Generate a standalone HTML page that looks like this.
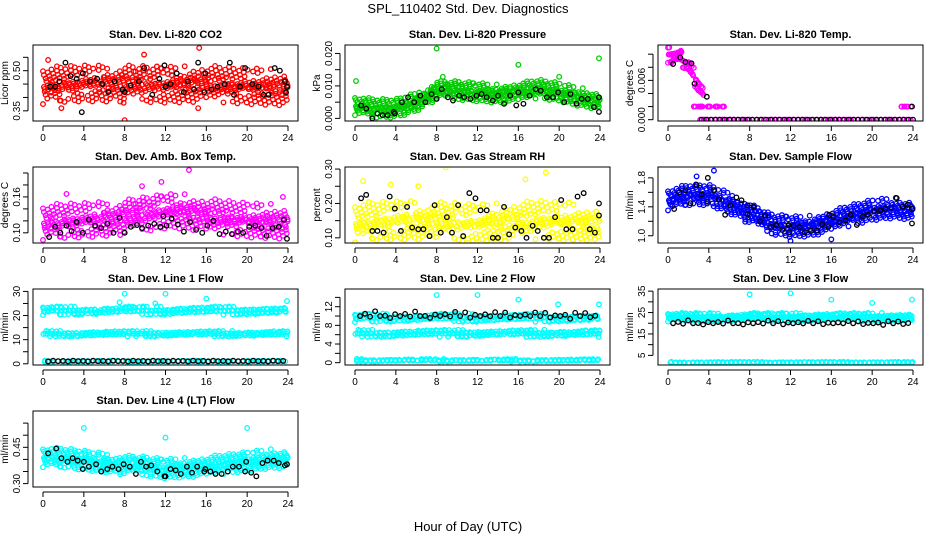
<!DOCTYPE html>
<html><head><meta charset="utf-8"><style>
html,body{margin:0;padding:0;background:#fff;}
svg{display:block;font-family:"Liberation Sans",Arial,sans-serif;}
</style></head><body>
<svg id="chart" width="936" height="540" viewBox="0 0 936 540">
<text x="468" y="13" text-anchor="middle" font-size="13">SPL_110402  Std. Dev. Diagnostics</text>
<text x="468" y="531" text-anchor="middle" font-size="13">Hour of Day (UTC)</text>
</svg>
<script>
// ---- data ----
const hourTicks = [0,4,8,12,16,20,24];
const titles = ["Stan. Dev. Li-820 CO2","Stan. Dev. Li-820 Pressure","Stan. Dev. Li-820 Temp.","Stan. Dev. Amb. Box Temp.","Stan. Dev. Gas Stream RH","Stan. Dev. Sample Flow","Stan. Dev. Line 1 Flow","Stan. Dev. Line 2 Flow","Stan. Dev. Line 3 Flow","Stan. Dev. Line 4 (LT) Flow"];
const yUnits = ["Licor ppm","kPa","degrees C","degrees C","percent","ml/min","ml/min","ml/min","ml/min","ml/min"];
const yTicks = [[0.35,0.40,0.45,0.50,0.55],[0,0.005,0.010,0.015,0.020],[0,0.002,0.004,0.006,0.008,0.010],[0.10,0.12,0.14,0.16,0.18,0.20],[0.10,0.15,0.20,0.25,0.30],[1.0,1.2,1.4,1.6,1.8],[0,5,10,15,20,25,30],[0,2,4,6,8,10,12,14],[5,10,15,20,25,30,35],[0.30,0.35,0.40,0.45,0.50,0.55]];
const yLabels = [["0.35","0.50"],["0.000","0.010","0.020"],["0.000","0.006"],["0.10","0.16"],["0.10","0.20","0.30"],["1.0","1.4","1.8"],["0","10","20","30"],["0","4","8","12"],["5","15","25","35"],["0.30","0.45"]];
const yLabelVals = [[0.35,0.50],[0,0.010,0.020],[0,0.006],[0.10,0.16],[0.10,0.20,0.30],[1.0,1.4,1.8],[0,10,20,30],[0,4,8,12],[5,15,25,35],[0.30,0.45]];
const yDomains = [[0.312,0.596],[-0.0008,0.0226],[-0.0002,0.0114],[0.083,0.21],[0.085,0.306],[0.9,1.95],[-0.5,31],[-0.5,15.8],[0.5,36],[0.286,0.60]];
const colors = ["#ff0000","#00cc00","#ff00ff","#ff00ff","#ffff00","#0000ff","#00ffff","#00ffff","#00ffff","#00ffff"];
// bands: hours, centre values, half spread, point count
const bands = [
 [{h:[0,4,8,12,16,20,24],c:[0.445,0.45,0.45,0.445,0.45,0.44,0.435],s:0.07,n:520}],
 [{h:[0,2,4,6,8,10,12,14,16,18,20,22,24],c:[0.004,0.003,0.003,0.005,0.0085,0.0085,0.008,0.0075,0.008,0.009,0.008,0.0065,0.0055],s:0.003,n:520}],
 [{h:[0,1,2,3,3.6],c:[0.0100,0.0096,0.0082,0.0052,0.0036],s:0.0013,n:70},{h:[2.5,5.5],c:[0.002,0.002],s:0,n:22},{h:[3,24],c:[0,0],s:0,n:110},{h:[22.8,24],c:[0.002,0.002],s:0,n:7}],
 [{h:[0,4,8,10,12,14,16,20,24],c:[0.118,0.12,0.125,0.13,0.135,0.135,0.128,0.12,0.118],s:0.03,n:520}],
 [{h:[0,6,12,18,24],c:[0.145,0.15,0.14,0.15,0.14],s:0.058,n:480}],
 [{h:[0,2,4,6,8,10,12,14,16,18,20,22,24],c:[1.5,1.56,1.56,1.45,1.3,1.16,1.12,1.13,1.2,1.28,1.35,1.38,1.36],s:0.15,n:520}],
 [{h:[0,24],c:[22,22],s:1.8,n:260},{h:[0,24],c:[12.5,12.5],s:1.2,n:260},{h:[0,24],c:[1,1],s:0.3,n:120}],
 [{h:[0,24],c:[9.6,9.6],s:0.9,n:260},{h:[0,24],c:[6.3,6.3],s:0.8,n:260},{h:[0,24],c:[0.5,0.5],s:0.3,n:160}],
 [{h:[0,24],c:[22.8,22.8],s:2.0,n:420},{h:[0,24],c:[1.7,1.7],s:0.3,n:160}],
 [{h:[0,2,4,6,8,10,12,14,16,18,20,22,24],c:[0.41,0.405,0.395,0.385,0.375,0.37,0.36,0.365,0.37,0.38,0.39,0.40,0.405],s:0.042,n:520}]
];
const outliers = [
 [[8,0.315],[15.3,0.585],[9.9,0.56],[15.2,0.36],[1.8,0.36],[0.5,0.54],[7.9,0.38]],
 [[0.1,0.0115],[8,0.0215],[16,0.0165],[20,0.0128],[23.9,0.0185],[8.6,0.0128]],
 [],
 [[2.3,0.165],[9.7,0.178],[14.3,0.205],[11.6,0.185],[23.5,0.16]],
 [[0.8,0.265],[3.5,0.255],[8.9,0.305],[18.7,0.29],[16.7,0.27],[6.2,0.25]],
 [[4.5,1.9],[12,0.93],[16,0.95],[2.8,1.82]],
 [[8,29],[12,29],[7.5,25.5],[23.9,26],[16,27],[11,25]],
 [[8,14.5],[12,14.5],[23.9,12.5],[16,13.5],[19.9,12.5]],
 [[8,33.5],[12,34],[16,31],[23.9,31],[20,29.5]],
 [[4,0.53],[20,0.53],[12,0.49]]
];
const blackH = [
 [0.7,1.2,1.6,2.2,2.7,3.3,3.8,3.9,4.6,5.3,5.8,6.4,7,7.8,8,8.6,9.4,9.9,10.7,11.4,11.9,12,12.5,13.1,13.8,14.2,14.8,15.2,15.8,15.9,16.5,17.1,17.8,18.3,18.7,19.3,19.8,20.5,21.1,21.6,22.1,22.7,23.2,23.7,23.8,23.9],
 [0.6,1.1,1.7,2.2,2.7,3.2,3.8,3.9,4.6,5.2,5.8,6.4,6.9,7.5,8,8.5,9.1,9.6,10.2,10.7,11.3,11.9,12.4,12.9,13.5,14,14.6,15.2,15.8,16,16.5,17.1,17.7,18.2,18.8,19.4,19.9,20.5,21.1,21.7,22.2,22.8,23.4,23.9,23.9],
 [0.5,1.2,1.7,2.3,2.6,3.8,23.9],
 [0.6,1.2,1.7,2.3,2.8,3.3,3.9,4.5,5.1,5.7,6.3,6.9,7.5,8,8.6,9.2,9.7,10.3,10.9,11.5,11.8,12.1,12.6,13.2,13.8,14.4,15,15.6,16.1,16.7,17.3,17.9,18.5,19.1,19.6,20.2,20.8,21.4,21.9,22.5,23.1,23.6,23.9],
 [0.6,1.1,1.7,2.2,2.8,3.4,3.9,4.5,5.1,5.6,6.2,6.7,7.3,7.8,8.4,9,9.5,10.1,10.6,11.2,11.8,12.3,12.9,13.5,14,14.6,15.1,15.7,16.3,16.8,17.4,17.9,18.5,19,19.6,20.2,20.7,21.3,21.8,22.4,23,23.5,23.9,23.9],
 [0.6,1.1,1.7,2.2,2.8,3.3,3.9,3.9,4.5,5,5.6,6.1,6.7,7.2,7.8,7.8,8.4,9,9.5,10.1,10.6,11.2,11.8,11.9,12.3,12.9,13.4,14,14.6,15.1,15.7,15.8,16.2,16.8,17.4,17.9,18.5,19.1,19.6,20.2,20.8,21.3,21.9,22.4,23,23.5,23.9,23.9],
 [], [], [],
 [0.5,1.3,1.8,2.4,2.9,3.4,3.9,4,4.5,5.2,5.7,6.3,6.8,7.4,7.9,8.5,9.1,9.6,10.1,10.6,11.2,11.9,12,12.5,13,13.5,14.1,14.6,15.1,15.8,15.9,16.4,16.9,17.5,18.1,18.6,19.2,19.8,19.9,20.4,20.9,21.5,22,22.6,23.1,23.7,23.9]
];
const blackV = [
 [0.44,0.44,0.46,0.53,0.48,0.47,0.345,0.49,0.46,0.47,0.45,0.42,0.46,0.43,0.42,0.445,0.46,0.51,0.41,0.47,0.52,0.44,0.45,0.49,0.42,0.46,0.43,0.53,0.42,0.49,0.43,0.44,0.45,0.53,0.41,0.44,0.51,0.45,0.44,0.41,0.41,0.51,0.5,0.46,0.42,0.44],
 [0.004,0.003,0,0.0015,0.001,0.001,0.002,0.0015,0.005,0.0065,0.005,0.007,0.005,0.0075,0.006,0.009,0.0065,0.0055,0.007,0.0065,0.006,0.007,0.0075,0.0065,0.0055,0.007,0.0045,0.007,0.004,0.008,0.0045,0.007,0.009,0.0085,0.0065,0.0065,0.008,0.005,0.0075,0.0045,0.006,0.006,0.0035,0.0065,0.002],
 [0.0085,0.0095,0.0088,0.0086,0.0055,0.0035,0.002],
 [0.093,0.11,0.1,0.112,0.103,0.118,0.1,0.122,0.112,0.108,0.115,0.1,0.125,0.1,0.11,0.113,0.108,0.112,0.115,0.11,0.128,0.112,0.124,0.114,0.102,0.118,0.105,0.1,0.112,0.12,0.098,0.102,0.098,0.102,0.1,0.11,0.112,0.108,0.095,0.108,0.11,0.122,0.09],
 [0.215,0.225,0.12,0.12,0.115,0.22,0.185,0.12,0.19,0.13,0.125,0.125,0.105,0.195,0.115,0.16,0.115,0.195,0.105,0.23,0.215,0.18,0.18,0.1,0.1,0.19,0.11,0.13,0.12,0.1,0.135,0.12,0.1,0.1,0.16,0.21,0.125,0.125,0.22,0.23,0.125,0.115,0.2,0.165],
 [1.37,1.6,1.63,1.45,1.7,1.57,1.8,1.47,1.63,1.5,1.29,1.42,1.53,1.49,1.42,1.3,1.4,1.2,1.28,1.12,1.15,1.08,1.15,1.05,1.14,1.12,1.05,1.07,1.07,1.16,1.12,1.29,1.26,1.19,1.21,1.29,1.15,1.27,1.29,1.34,1.35,1.37,1.39,1.52,1.4,1.43,1.17,1.37],
 [], [], [],
 [0.425,0.445,0.405,0.39,0.405,0.395,0.36,0.39,0.37,0.38,0.35,0.36,0.37,0.36,0.38,0.37,0.34,0.39,0.37,0.375,0.35,0.33,0.33,0.36,0.355,0.34,0.37,0.345,0.37,0.35,0.36,0.35,0.34,0.34,0.35,0.37,0.37,0.35,0.39,0.345,0.33,0.385,0.395,0.395,0.385,0.375,0.38]
];
// flow panels: black point levels per hour
const flowBlackLevel = [1, 10, 20];
const flowBlackVar = [[0,0.3,0.1,0.2],[0,0.8,-0.6,1.2],[0,1,-0.8,1.6]];

// ---- layout ----
const NS="http://www.w3.org/2000/svg";
const svg=document.getElementById('chart');
function el(tag,attrs,parent){const e=document.createElementNS(NS,tag);for(const k in attrs)e.setAttribute(k,attrs[k]);(parent||svg).appendChild(e);return e;}
const colX=[33,345,658], rowY=[45,167,289,411], W=265, H=76;
function frac(x){return x-Math.floor(x);}
function interp(hs,cs,h){if(h<=hs[0])return cs[0];for(let i=1;i<hs.length;i++){if(h<=hs[i]){const t=(h-hs[i-1])/(hs[i]-hs[i-1]);return cs[i-1]+t*(cs[i]-cs[i-1]);}}return cs[cs.length-1];}

for(let p=0;p<10;p++){
  const x0=colX[p%3], y0=rowY[Math.floor(p/3)];
  const g=el('g',{});
  
  
  const xs=h=>x0+10+(h/24)*(W-20);
  const dom=yDomains[p];
  const ys=v=>y0+H-(v-dom[0])/(dom[1]-dom[0])*H;
  const t=el('text',{x:x0+W/2,y:y0-7,'text-anchor':'middle','font-size':'11','font-weight':'bold'},g);
  t.textContent=titles[p];
  
  
  const cid='c'+p;
  const cp=el('clipPath',{id:cid},g);el('rect',{x:x0,y:y0,width:W,height:H},cp);
  const pts=el('g',{'clip-path':'url(#'+cid+')',fill:'none','stroke-width':'1.3'},g);
  
  
  bands[p].forEach((b,bi)=>{
    const h0=b.h[0],h1=b.h[b.h.length-1];
    for(let i=0;i<b.n;i++){
      const h=h0+(h1-h0)*frac(i*0.7548776662+bi*0.17+0.05*frac(i*0.3247));
      const u=2*frac(i*0.5698402910+0.5*frac(i*0.1234567)+bi*0.3)-1;
      const v=interp(b.h,b.c,h)+b.s*u*Math.abs(u)*0.6+b.s*u*0.4;
      el('circle',{cx:xs(h).toFixed(1),cy:ys(v).toFixed(1),r:2.3,stroke:colors[p]},pts);
    }
  });
  outliers[p].forEach(o=>el('circle',{cx:xs(o[0]),cy:ys(o[1]),r:2.3,stroke:colors[p]},pts));
  if(p>=6&&p<=8){
    const lv=flowBlackLevel[p-6],vr=flowBlackVar[p-6];
    for(let i=0;i<48;i++){const h=0.5+i*0.49;el('circle',{cx:xs(h),cy:ys(lv+vr[i%4]*(p==6?1:frac(i*0.618))),r:2.3,stroke:'#000'},pts);}
  } else {
    blackH[p].forEach((h,i)=>el('circle',{cx:xs(h),cy:ys(blackV[p][i]),r:2.3,stroke:'#000'},pts));
  }
  if(p==2){for(let h=3.3;h<=24;h+=0.45)el('circle',{cx:xs(h),cy:ys(0),r:2.3,stroke:'#000'},pts);}
  el('rect',{x:x0,y:y0,width:W,height:H,fill:'none',stroke:'#000','stroke-width':'1'},g);
  el('line',{x1:xs(0),x2:xs(24),y1:y0+H+5,y2:y0+H+5,stroke:'#000'},g);
  hourTicks.forEach(h=>{
    el('line',{x1:xs(h),x2:xs(h),y1:y0+H+5,y2:y0+H+10,stroke:'#000'},g);
    const tl=el('text',{x:xs(h),y:y0+H+20,'text-anchor':'middle','font-size':'10'},g);tl.textContent=h;
  });
  const yt=yTicks[p];
  el('line',{x1:x0-5,x2:x0-5,y1:ys(yt[0]),y2:ys(yt[yt.length-1]),stroke:'#000'},g);
  yt.forEach(v=>el('line',{x1:x0-5,x2:x0-10,y1:ys(v),y2:ys(v),stroke:'#000'},g));
  yLabelVals[p].forEach((v,i)=>{
    const tl=el('text',{x:0,y:0,'text-anchor':'middle','font-size':'10',transform:`translate(${x0-13},${ys(v)}) rotate(-90)`},g);tl.textContent=yLabels[p][i];
  });
  const ul=el('text',{x:0,y:0,'text-anchor':'middle','font-size':'10',transform:`translate(${x0-25},${y0+H/2}) rotate(-90)`},g);
  ul.textContent=yUnits[p];
  
  
}
</script>
</body></html>
